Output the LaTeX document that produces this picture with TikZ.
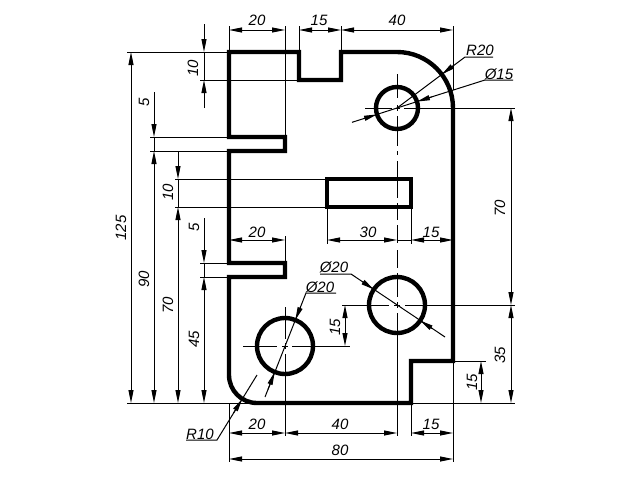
\documentclass[tikz,border=0pt]{standalone}
\usepackage{fontspec}
\setmainfont{Liberation Sans}
\usetikzlibrary{arrows.meta}
\tikzset{
  part/.style={line width=4.4pt,line join=miter,draw=black},
  fine/.style={line width=1pt,draw=black},
  tipend/.style={fine,-{Stealth[length=13pt,width=5pt,inset=0pt]}},
  tipboth/.style={fine,{Stealth[length=13pt,width=5pt,inset=0pt]}-{Stealth[length=13pt,width=5pt,inset=0pt]}},
  lab/.style={font=\itshape\fontsize{15}{15}\selectfont,inner sep=0pt,text=black},
  vlab/.style={lab,rotate=90}
}
\begin{document}
\begin{tikzpicture}[x=1pt,y=-1pt]
\useasboundingbox (0,0) rectangle (640,480);
\fill[white] (0,0) rectangle (640,480);
% part outline
\draw[part] (229,52) -- (299,52) -- (299,80) -- (341,80) -- (341,52) -- (397,52)
  .. controls (427.9,52) and (453,77.1) .. (453,108) -- (453,361) -- (411,361) -- (411,403) -- (257,403)
  .. controls (241.5,403) and (229,390.5) .. (229,375) -- (229,277) -- (285,277) -- (285,263) -- (229,263)
  -- (229,151) -- (285,151) -- (285,137) -- (229,137) -- cycle;
\draw[part] (327,179) rectangle (411,207);
\draw[part] (397,108) circle[radius=21pt];
\draw[part] (397,305) circle[radius=28pt];
\draw[part] (285,346) circle[radius=28pt];
% centre lines
\foreach \a/\b in {74/98,105/111,116/146,151/155,161/198,203/220,225/243,250/268,273/297,302/308,313/436}
  \draw[fine] (397,\a) -- (397,\b);
\foreach \a/\b in {365/392,395/400,404/515}
  \draw[fine] (\a,108) -- (\b,108);
\foreach \a/\b in {342/389,394/400,405/515}
  \draw[fine] (\a,305) -- (\b,305);
\foreach \a/\b in {243/277,282/288,292/350}
  \draw[fine] (\a,346) -- (\b,346);
\foreach \a/\b in {307/339,343/349,354/436}
  \draw[fine] (285,\a) -- (285,\b);
% extension lines
\draw[fine] (229,26) -- (229,52);
\draw[fine] (285,26) -- (285,137);
\draw[fine] (299,26) -- (299,52);
\draw[fine] (341,26) -- (341,52);
\draw[fine] (453,26) -- (453,90);
\draw[fine] (127,52) -- (229,52);
\draw[fine] (200,80) -- (299,80);
\draw[fine] (150,137) -- (229,137);
\draw[fine] (150,151) -- (229,151);
\draw[fine] (175,179) -- (327,179);
\draw[fine] (175,207) -- (327,207);
\draw[fine] (200,263) -- (229,263);
\draw[fine] (200,277) -- (229,277);
\draw[fine] (127,403) -- (515,403);
\draw[fine] (453,361) -- (486,361);
\draw[fine] (285,236) -- (285,263);
\draw[fine] (327,207) -- (327,244);
\draw[fine] (411,207) -- (411,244);
\draw[fine] (229,403) -- (229,462);
\draw[fine] (453,361) -- (453,462);
\draw[fine] (411,403) -- (411,436);
% horizontal dimensions
\draw[tipboth] (229,30) -- (285,30);
\draw[tipboth] (299,30) -- (341,30);
\draw[tipboth] (341,30) -- (453,30);
\draw[tipboth] (229,240) -- (285,240);
\draw[tipboth] (327,240) -- (397,240);
\draw[fine] (397,240) -- (411,240);
\draw[tipboth] (411,240) -- (453,240);
\draw[tipboth] (229,433) -- (285,433);
\draw[tipboth] (285,433) -- (397,433);
\draw[tipboth] (411,433) -- (453,433);
\draw[tipboth] (229,459) -- (453,459);
% vertical dimensions
\draw[tipboth] (131,52) -- (131,403);
\draw[tipboth] (154,151) -- (154,403);
\draw[tipboth] (178,207) -- (178,403);
\draw[tipboth] (204,277) -- (204,403);
\draw[tipend] (204,24) -- (204,52);
\draw[fine] (204,52) -- (204,80);
\draw[tipend] (204,108) -- (204,80);
\draw[tipend] (154,92) -- (154,137);
\draw[fine] (154,137) -- (154,151);
\draw[tipend] (178,151) -- (178,179);
\draw[fine] (178,179) -- (178,207);
\draw[tipend] (204,218) -- (204,263);
\draw[fine] (204,263) -- (204,277);
\draw[tipboth] (511,108) -- (511,305);
\draw[tipboth] (511,305) -- (511,403);
\draw[tipboth] (481,361) -- (481,403);
\draw[tipboth] (345,305) -- (345,346);
% leaders
\coordinate (r20c) at (397,108);
\coordinate (r20k) at (465,57);
\draw[fine] (r20c) -- (r20k) -- (493,57);
\draw[tipend] (453,65.8) -- (441.8,74.4);
\draw[fine] (513,80) -- (485,80) -- (420,100.6);
\draw[tipend] (432,96.8) -- (417,101.6);
\draw[fine] (417,101.6) -- (397,108);
\draw[tipend] (352,122.3) -- (377,114.4);
\draw[fine] (377,114.4) -- (397,108);
\draw[fine] (320,274) -- (351,274) -- (445,337);
\draw[tipend] (362,281.4) -- (373.8,289.4);
\draw[tipend] (432,328.4) -- (420.2,320.6);
\draw[fine] (336,293) -- (306,293) -- (265,397);
\draw[tipend] (300.5,307) -- (295.3,320);
\draw[tipend] (268,389.5) -- (274.7,372);
\draw[fine] (186,440) -- (217,440) -- (257,375);
\draw[tipend] (233.5,413) -- (242.3,398.9);
% labels
\node[lab] (t1) at (257,20) {20};
\node[lab] (t2) at (319,20) {15};
\node[lab] (t3) at (397,20) {40};
\node[lab] (t4) at (480,50.5) {R20};
\node[lab] (t5) at (499,74) {Ø15};
\node[lab] (t6) at (334,267) {Ø20};
\node[lab] (t7) at (320,287) {Ø20};
\node[lab] (t8) at (257,232) {20};
\node[lab] (t9) at (368,232) {30};
\node[lab] (t10) at (431,232) {15};
\node[lab] (t11) at (200,434) {R10};
\node[lab] (t12) at (257,424) {20};
\node[lab] (t13) at (340,424) {40};
\node[lab] (t14) at (431,424) {15};
\node[lab] (t15) at (340,450) {80};
\node[vlab] (t16) at (121,228) {125};
\node[vlab] (t17) at (144,279) {90};
\node[vlab] (t18) at (168,305) {70};
\node[vlab] (t19) at (194,339) {45};
\node[vlab] (t20) at (144,102) {5};
\node[vlab] (t21) at (193,68) {10};
\node[vlab] (t22) at (168,192) {10};
\node[vlab] (t23) at (194,227) {5};
\node[vlab] (t24) at (500,208) {70};
\node[vlab] (t25) at (500,355) {35};
\node[vlab] (t26) at (472,382) {15};
\node[vlab] (t27) at (335,327) {15};
\end{tikzpicture}
\end{document}
